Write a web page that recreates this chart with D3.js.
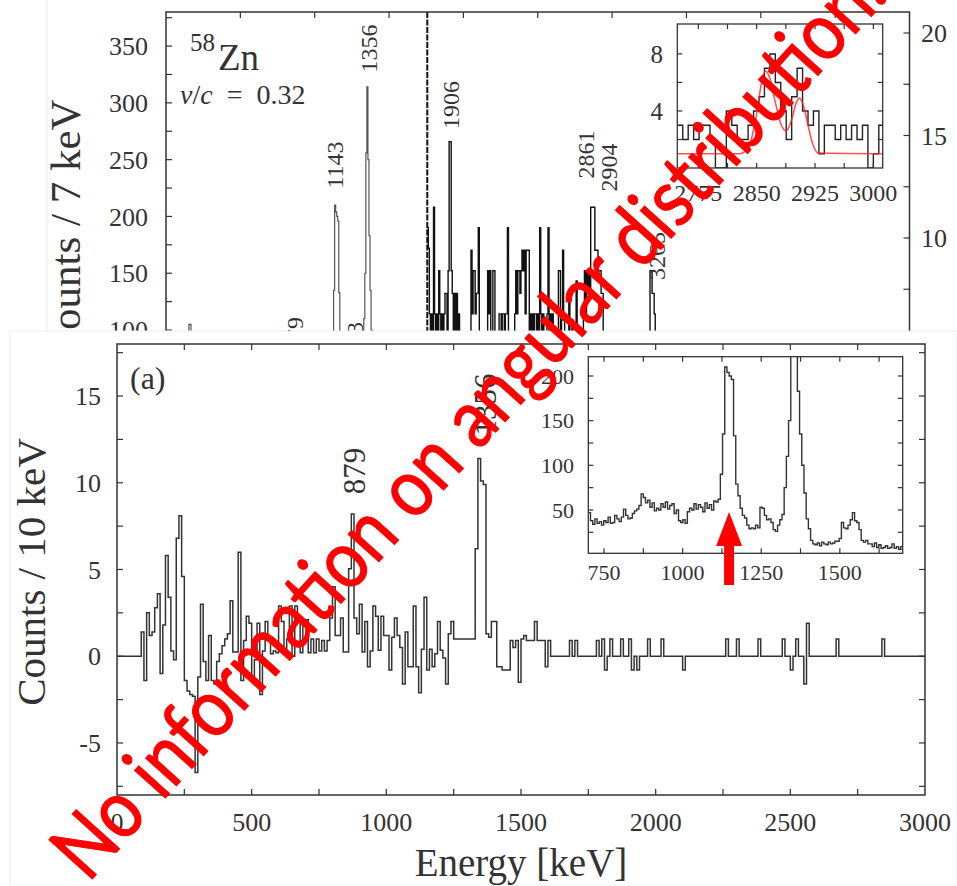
<!DOCTYPE html>
<html><head><meta charset="utf-8">
<script src="https://cdn.jsdelivr.net/npm/d3@7"></script>
<style>
html,body{margin:0;padding:0;background:#fff;}
svg{display:block;}
text{font-family:"Liberation Serif","DejaVu Serif",serif;fill:#333;}
</style></head><body>
<svg id="chart" width="957" height="886"></svg>
<script>
// ================= DATA =================
// 58Zn spectrum, low-energy part (variable steps, keV edges) - Counts / 7 keV
const zn58LowEdges = [0, 35, 70, 105, 140, 154, 168, 210, 280, 350, 420, 490, 560, 630, 700];
const zn58LowCounts = [0, 30, 70, 88, 92, 105, 86, 80, 74, 70, 64, 58, 52, 48];
// 58Zn spectrum, 7 keV bins starting at 700 keV
const zn58BinStart = 700, zn58BinWidth = 7;
const zn58Counts = [
 47,38,34,40,35,37,33,38,36,42, 35,36,44,40,37,42,51,44,40,41,
 46,49,51,55,68,64,58,61,53,58, 49,52,50,57,53,59,51,55,57,46,
 50,38,36,39,35,48,52,50,57,51, 56,53,48,58,52,56,50,60,59,62,
 90,135,210,204,200,196,133,79,66,52, 44,41,33,29,30,29,33,30,53,52,
 44,39,40,36,28,26,33,39,45,75, 110,150,256,314,250,183,135,100,69,40,
 29,16,12,11,13,10,14,12,11,14, 12,13,15,15,18,36,30,29,33,39,
 47,38,36,28,16,14,16,12,12,9, 13,8,11,7,8,10,7,8,12,7,
 9,6,9,10,12,8,10,11,9,13, 10];
// 58Zn spectrum above the dashed line (right axis), 7 keV bins from 1757 keV
const dashedEnergy = 1757;
const zn58HighCounts = [
 10.5,9.5,6.3,4,6.3,3,11.5,6.3,3,6.3, 4,8.4,6.3,3,6.3,4,6.3,7.3,7.3,5,
 8.4,14.7,14.7,8.4,7.3,4,7.3,3,7.3,4, 6.3,3,5,3,4,5,2,4,5,3,
 4,5,9.4,6.3,8.4,8.4,6.3,7.3,7.3,10.5, 4,5,3,5,4,5,2,5,8.4,6.3,
 8.4,4,5,8.4,8.4,3,5,4,5,6.3, 6.3,5,6.3,6.3,4,6.3,6.3,10.5,4,5,
 3,5,4,5,6.3,8.4,6.3,8.4,8.4,7.3, 8.4,9.4,8.4,9.4,6.3,9.4,9.4,9.4,5,6.3,
 4,6.3,3,6.3,6.3,5,6.3,4,10.5,6.3, 5,6.3,4,5,3,6.3,10.5,4,6.3,5,
 6.3,4,5,3,5,4,8.4,8.4,5,6, 9.4,6,4,5,3,4,7,5,3,6,
 4,5,3,7.9,5,4,5,3,5,4, 6.3,8.4,6.3,8.4,7.3,8.4,7.3,11.5,11.5,11.5,
 11.5,9.4,9.4,9.4,8.4,8.4,8.4,7.3,7.3,5, 4,3,5,2,4,3,5,4,2,3,
 4,5,3,2,4,3,4,2,3,5, 3,4,2,3,4,3,2,4,3,5,
 2,3,4,3,2,3,4,2,3,4, 3,2,4,5,8.4,8.4,7.3,7.3,6.3,5,
 3,4,2];
const zn58TailEdges = [3318, 3400, 3500, 3650, 3800, 4000, 4200, 4400, 4600, 4800, 5000];
const zn58TailCounts = [3, 2, 3, 2, 2, 1, 2, 1, 1, 1];
// Top panel ticks / labels
const topLeftTicks = [100, 150, 200, 250, 300, 350];
const topRightTicks = [5, 10, 15, 20];
const topEnergyTicks = [500, 1000, 1500, 2000, 2500, 3000, 3500, 4000, 4500];
const topPeakNames = ["879", "1263", "1143", "1356", "1906", "2861", "2904", "3265"];
// Top inset: 7 keV bins from 2748 keV
const insetTopStart = 2748;
const insetTopCounts = [3,2,3,2,3,3,2,0,0,4, 3,2,2,3,4,5,7,8,6,4, 2,5,7,4,3,4,1,3,3,2, 3,2,3,2,3,0,1,3];
const fitEnergy = [2748, 2828, 2836, 2843, 2850, 2856, 2861, 2867, 2874, 2881, 2888, 2895, 2901, 2905, 2910, 2916, 2922, 2929, 3012];
const fitValue  = [1, 1, 1.2, 2.0, 3.8, 5.9, 6.8, 6.3, 4.6, 3.1, 2.6, 3.4, 4.6, 4.9, 4.4, 3.0, 1.7, 1.05, 1];
const insetTopXTicks = [2775, 2850, 2925, 3000];
const insetTopYTicks = [4, 8];
// Bottom panel (a): Counts / 10 keV, 10 keV bins from 0 keV
const gateBinWidth = 10;
const gateCounts = [
 0,0,0,0,0,0,0,0,0,1.4, -1.4,2.5,1.2,1.4,2.8,3.6,-1.0,1.8,5.8,3.4,
 0.3,-0.2,6.8,8.1,4.6,-1.4,-2.0,-2.2,-2.3,-6.7, -1.2,3.0,-0.3,-1.4,1.2,-1.4,-1.6,-0.3,0.15,0.6,
 1.0,1.3,3.2,0.25,0.25,6.0,-1.4,0.9,2.3,1.9, -1.4,-0.2,1.9,-2.2,0.3,2.0,0.9,0.15,0.3,0.2,
 2.9,2.0,0.2,1.0,2.9,0,2.9,2.1,0.2,2.1, 2.1,0.2,1.0,0.2,1.0,0.3,0.9,0.3,0.9,2.2,
 4.0,1.2,1.2,2.2,0.25,0.25,5.05,8.2,2.2,1.3, 3.0,0.25,2.0,-0.6,0.3,2.9,2.3,0.35,2.3,1.2,
 1.2,-0.8,1.1,2.2,1.2,0.5,-1.6,1.4,-0.6,-0.6, 2.9,-0.6,-2.1,0.4,3.4,-0.8,0.4,-0.6,0.15,2.0,
 0.35,-0.1,-1.6,1.3,2.0,1.0,1.0,1.0,1.0,1.0, 1.0,1.0,1.0,6.2,11.4,10.1,9.9,1.3,1.1,2.0,
 2.0,-0.6,-0.6,-0.8,-0.8,-0.8,0.9,0.5,0.9,-1.5, 1.0,1.2,0.9,0.9,0.9,2.0,0.9,0.9,0.9,-0.6,
 0.9,0,0,0,0,0,0,0,0.9,0, 0.9,0,0,0,0,0,0,0,0.9,0,
 1.0,-0.8,0,1.0,0,0,0,1.0,0,0, 1.0,-0.8,0,-0.8,0,0,0,1.0,0,0,
 0,0,1.0,0,0,0,0,0,0,0, -0.8,0,0,0,0,0,0,0,0,0,
 0,0,0,0,0,0,1.0,0,0,0, 1.0,0,0,0,0,0,0,0,1.0,0,
 0,0,0,0,0,0,0,1.0,0,0, -0.8,0,1.0,0,0,-1.6,1.9,0,0,0,
 0,0,0,0,0,0,0,1.0,0,0, 0,0,0,0,0,0,0,0,0,0,
 0,0,0,0,1.0,0,0,0,0,0, 0,0,0,0,0,0,0,0,0,0];
const gateXTicks = [0, 500, 1000, 1500, 2000, 2500, 3000];
const gateYTicks = [-5, 0, 5, 10, 15];
const gatePeakNames = ["879", "1356"];
const insetBotXTicks = [750, 1000, 1250, 1500];
const insetBotYTicks = [50, 100, 150, 200];
const arrowEnergy = 1143;
const watermarkText = "No information on angular distribution...";

// ================= DRAWING =================
const svg = d3.select("#chart");
const ink = "#333";
function binPts(start, width, counts) {
  const p = counts.map((c, i) => [start + i * width, c]);
  p.push([start + counts.length * width, counts[counts.length - 1]]);
  return p;
}
function edgePts(edges, counts) {
  const p = counts.map((c, i) => [edges[i], c]);
  p.push([edges[edges.length - 1], counts[counts.length - 1]]);
  return p;
}
function stepPath(x, y) { return d3.line().x(d => x(d[0])).y(d => y(d[1])).curve(d3.curveStepAfter); }
function hTicks(g, vals, x, y0, len, w) {
  g.selectAll(null).data(vals).join("line")
    .attr("x1", d => x(d)).attr("x2", d => x(d)).attr("y1", y0).attr("y2", y0 + len)
    .attr("stroke", ink).attr("stroke-width", w || 1.2);
}
function vTicks(g, vals, y, x0, len, w) {
  g.selectAll(null).data(vals).join("line")
    .attr("y1", d => y(d)).attr("y2", d => y(d)).attr("x1", x0).attr("x2", x0 + len)
    .attr("stroke", ink).attr("stroke-width", w || 1.2);
}

// ---------- TOP PANEL ----------
const topG = svg.append("g");
const tx = d3.scaleLinear().domain([0, 5000]).range([166, 909.5]);
const tyL = d3.scaleLinear().domain([0, 380]).range([443.6, 12]);
const tyR = d3.scaleLinear().domain([0, 21]).range([443, 12.5]);
topG.append("line").attr("x1", 47).attr("x2", 47).attr("y1", 0).attr("y2", 331).attr("stroke", "#ececec");

const leftPts = edgePts(zn58LowEdges, zn58LowCounts).slice(0, -1)
  .concat(binPts(zn58BinStart, zn58BinWidth, zn58Counts));
topG.append("path").attr("d", stepPath(tx, tyL)(leftPts))
  .attr("fill", "none").attr("stroke", "#555").attr("stroke-width", 1.2);
const rightPts = binPts(dashedEnergy, 7, zn58HighCounts).slice(0, -1)
  .concat(edgePts(zn58TailEdges, zn58TailCounts));
topG.append("path").attr("d", stepPath(tx, tyR)(rightPts))
  .attr("fill", "none").attr("stroke", "#111").attr("stroke-width", 1.4);
topG.append("line").attr("x1", tx(dashedEnergy)).attr("x2", tx(dashedEnergy))
  .attr("y1", 12).attr("y2", 443).attr("stroke", "#111").attr("stroke-width", 2).attr("stroke-dasharray", "6,1.5");
topG.append("path").attr("d", `M${tx(0)},443 V12 H${tx(5000)} V443`).attr("fill", "none").attr("stroke", ink).attr("stroke-width", 1.5);
hTicks(topG, topEnergyTicks, tx, 12, 6);
vTicks(topG, d3.range(100, 376, 25), tyL, tx(0), 6);
vTicks(topG, d3.range(5, 21, 2.5), tyR, tx(5000), -6);
topG.selectAll(null).data(topLeftTicks).join("text")
  .attr("x", 148).attr("y", d => tyL(d)).attr("dy", "0.35em").attr("text-anchor", "end")
  .style("font-size", "26px").text(d => d);
topG.selectAll(null).data(topRightTicks).join("text")
  .attr("x", 921).attr("y", d => tyR(d)).attr("dy", "0.35em").attr("text-anchor", "start")
  .style("font-size", "26px").text(d => d);
topG.append("text").attr("transform", "translate(80,229) rotate(-90)").attr("text-anchor", "middle")
  .style("font-size", "43px").text("Counts / 7 keV");
const zn = topG.append("text").attr("x", 190).attr("y", 70);
zn.append("tspan").attr("dy", -19).style("font-size", "25px").text("58");
zn.append("tspan").attr("dy", 19).attr("dx", 3).style("font-size", "37px").text("Zn");
const vc = topG.append("text").attr("x", 180).attr("y", 104).style("font-size", "28px").attr("xml:space", "preserve");
vc.append("tspan").style("font-style", "italic").text("v");
vc.append("tspan").text("/");
vc.append("tspan").style("font-style", "italic").text("c");
vc.append("tspan").text("  =  0.32");
const topPeakPos = [[295, 335], [355, 346], [335, 165], [368.5, 48.5], [451, 105], [585.5, 154.5], [609, 167.5], [657, 256]];
topG.selectAll(null).data(topPeakNames).join("text")
  .attr("transform", (d, i) => `translate(${topPeakPos[i][0]},${topPeakPos[i][1]}) rotate(-90)`)
  .attr("text-anchor", "middle").attr("dominant-baseline", "central")
  .style("font-size", "24px").text(d => d);

// top inset
const ix = d3.scaleLinear().domain([2748, 3012]).range([677.3, 882.7]);
const iy = d3.scaleLinear().domain([0, 10.1]).range([168, 24]);
const inG = topG.append("g");
inG.append("rect").attr("x", 677.3).attr("y", 24).attr("width", 205.4).attr("height", 144).attr("fill", "#fff");
inG.append("clipPath").attr("id", "cTop").append("rect").attr("x", 677.3).attr("y", 24).attr("width", 205.4).attr("height", 144);
const inC = inG.append("g").attr("clip-path", "url(#cTop)");
inC.append("path").attr("d", stepPath(ix, iy)(binPts(insetTopStart, 7, insetTopCounts)))
  .attr("fill", "none").attr("stroke", "#222").attr("stroke-width", 1.4);
inC.append("path").attr("d", d3.line().x(d => ix(d[0])).y(d => iy(d[1])).curve(d3.curveMonotoneX)(fitEnergy.map((e, i) => [e, fitValue[i]])))
  .attr("fill", "none").attr("stroke", "rgba(255,40,40,0.8)").attr("stroke-width", 1.6);
inG.append("rect").attr("x", 677.3).attr("y", 24).attr("width", 205.4).attr("height", 144).attr("fill", "none").attr("stroke", ink).attr("stroke-width", 1.3);
const insTopXAll = [2775, 2812.5, 2850, 2887.5, 2925, 2962.5, 3000];
hTicks(inG, insTopXAll, ix, 24, 5);
hTicks(inG, insTopXAll, ix, 168, -5);
vTicks(inG, [2, 4, 6, 8], iy, 677.3, 5);
vTicks(inG, [2, 4, 6, 8], iy, 882.7, -5);
inG.selectAll(null).data(insetTopYTicks).join("text").attr("x", 663).attr("y", d => iy(d)).attr("dy", "0.35em")
  .attr("text-anchor", "end").style("font-size", "25px").text(d => d);
inG.selectAll(null).data(insetTopXTicks).join("text").attr("x", d => ix(d)).attr("y", 193).attr("dy", "0.35em")
  .attr("text-anchor", "middle").style("font-size", "24px").text(d => d);

// ---------- BOTTOM PANEL ----------
const botG = svg.append("g");
botG.append("rect").attr("x", 10).attr("y", 331).attr("width", 947).attr("height", 555).attr("fill", "#fff").attr("stroke", "#ececec");
const bx = d3.scaleLinear().domain([0, 3000]).range([117, 925]);
const by = d3.scaleLinear().domain([-8, 18]).range([795, 344]);
botG.append("path").attr("d", stepPath(bx, by)(binPts(0, gateBinWidth, gateCounts)))
  .attr("fill", "none").attr("stroke", "#333").attr("stroke-width", 1.5);
botG.append("rect").attr("x", 117).attr("y", 344).attr("width", 808).attr("height", 451).attr("fill", "none").attr("stroke", ink).attr("stroke-width", 1.5);
const bxAll = d3.range(250, 3000, 250);
hTicks(botG, bxAll, bx, 344, 6);
hTicks(botG, bxAll, bx, 795, -6);
const byAll = d3.range(-7.5, 17.6, 2.5);
vTicks(botG, byAll, by, 117, 6);
vTicks(botG, byAll, by, 925, -6);
botG.selectAll(null).data(gateYTicks).join("text").attr("x", 101).attr("y", d => by(d)).attr("dy", "0.35em")
  .attr("text-anchor", "end").style("font-size", "26px").text(d => d);
botG.selectAll(null).data(gateXTicks).join("text").attr("x", d => bx(d)).attr("y", 822).attr("dy", "0.35em")
  .attr("text-anchor", "middle").style("font-size", "26px").text(d => d);
botG.append("text").attr("x", 521).attr("y", 862).attr("dy", "0.35em").attr("text-anchor", "middle")
  .style("font-size", "39px").text("Energy [keV]");
botG.append("text").attr("transform", "translate(45,572) rotate(-90)").attr("text-anchor", "middle")
  .style("font-size", "41px").text("Counts / 10 keV");
botG.append("text").attr("x", 130).attr("y", 389).style("font-size", "32px").text("(a)");
const gatePeakPos = [[354, 471], [485, 404.5]];
botG.selectAll(null).data(gatePeakNames).join("text")
  .attr("transform", (d, i) => `translate(${gatePeakPos[i][0]},${gatePeakPos[i][1]}) rotate(-90)`)
  .attr("text-anchor", "middle").attr("dominant-baseline", "central")
  .style("font-size", "31px").text(d => d);

// bottom inset
const jx = d3.scaleLinear().domain([700, 1700]).range([588.3, 902.7]);
const jy = d3.scaleLinear().domain([1.5, 221.6]).range([553.3, 356.7]);
const jG = botG.append("g");
jG.append("rect").attr("x", 588.3).attr("y", 356.7).attr("width", 314.4).attr("height", 196.6).attr("fill", "#fff");
jG.append("clipPath").attr("id", "cBot").append("rect").attr("x", 588.3).attr("y", 356.7).attr("width", 314.4).attr("height", 196.6);
jG.append("g").attr("clip-path", "url(#cBot)").append("path")
  .attr("d", stepPath(jx, jy)(binPts(zn58BinStart, zn58BinWidth, zn58Counts)))
  .attr("fill", "none").attr("stroke", "#333").attr("stroke-width", 1.4);
jG.append("rect").attr("x", 588.3).attr("y", 356.7).attr("width", 314.4).attr("height", 196.6).attr("fill", "none").attr("stroke", ink).attr("stroke-width", 1.3);
const jxAll = d3.range(750, 1700, 125);
hTicks(jG, jxAll, jx, 356.7, 5);
hTicks(jG, jxAll, jx, 553.3, -5);
const jyAll = d3.range(25, 221, 25);
vTicks(jG, jyAll, jy, 588.3, 5);
vTicks(jG, jyAll, jy, 902.7, -5);
jG.selectAll(null).data(insetBotYTicks).join("text").attr("x", 574).attr("y", d => jy(d)).attr("dy", "0.35em")
  .attr("text-anchor", "end").style("font-size", "22px").text(d => d);
jG.selectAll(null).data(insetBotXTicks).join("text").attr("x", d => jx(d)).attr("y", 572).attr("dy", "0.35em")
  .attr("text-anchor", "middle").style("font-size", "22px").text(d => d);
const ax = jx(arrowEnergy) + 1.5, ay = 512;
jG.append("path").attr("d",
  `M${ax},${ay} L${ax + 13},${ay + 34} L${ax + 5},${ay + 34} L${ax + 5},${ay + 73} L${ax - 5},${ay + 73} L${ax - 5},${ay + 34} L${ax - 13},${ay + 34} Z`)
  .attr("fill", "#ff0000");

// ---------- WATERMARK ----------
const wm = svg.append("text").attr("x", 0).attr("y", 0)
  .style("font-family", "Lato, 'Open Sans', sans-serif").style("font-size", "70px").style("fill", "#ff0000")
  .style("stroke", "#ff0000").style("stroke-width", "1.2px")
  .text(watermarkText);
const wn = wm.node();
const i1 = watermarkText.indexOf("information") + 3;
const i2 = watermarkText.indexOf("distribution") + 10;
const cc = i => { const e = wn.getExtentOfChar(i); return e.x + e.width / 2; };
const squeeze = 0.86;
const fs = 70 * 912 / (squeeze * (cc(i2) - cc(i1)));
wm.style("font-size", fs + "px");
const c1 = cc(i1);
wm.attr("transform", `translate(212.5,715) rotate(-47.9) scale(${squeeze},1) translate(${-c1},${0.253 * fs})`);
</script>
</body></html>
